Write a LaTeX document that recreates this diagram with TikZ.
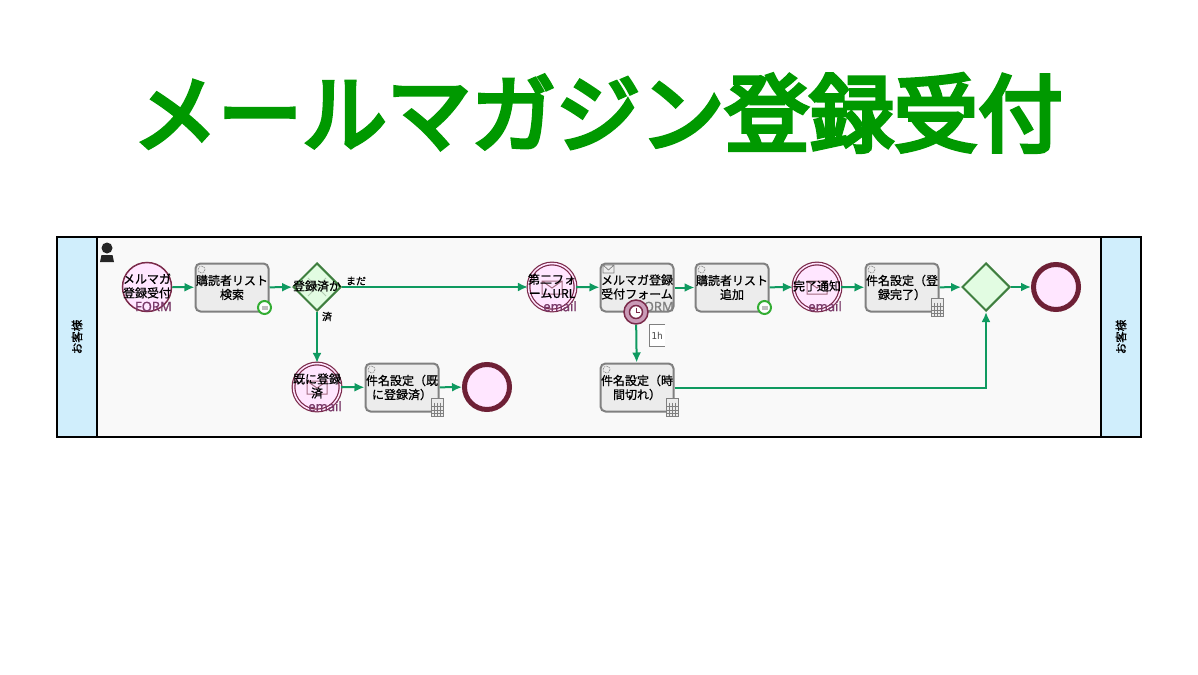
\documentclass[tikz,border=0pt]{standalone}
\usepackage{fontspec}
\setmainfont{Noto Sans CJK JP}[FakeBold = .8]
\newfontfamily\titlefont{Noto Sans CJK JP}[FakeBold = 5]
\newfontfamily\latinfont{Noto Sans}[FakeBold = 1]
\newfontfamily\monofont{DejaVu Sans Mono}
\usetikzlibrary{positioning,shapes.geometric,arrows.meta}
\definecolor{flowgreen}{HTML}{0F9A60}
\definecolor{bandblue}{HTML}{D0EEFC}
\definecolor{poolgrey}{HTML}{F9F9F9}
\definecolor{eventpink}{HTML}{FFE6FF}
\definecolor{eventred}{HTML}{7A2A4A}
\definecolor{endred}{HTML}{6E2036}
\definecolor{mailtext}{HTML}{7A3A6A}
\definecolor{taskgrey}{HTML}{ECECEC}
\definecolor{taskedge}{HTML}{808080}
\definecolor{gatefill}{HTML}{E2FCE2}
\definecolor{gateedge}{HTML}{3F7F3F}
\definecolor{titlegreen}{HTML}{009900}
\tikzset{
  band/.style = {draw = black, line width = 2pt, fill = bandblue},
  bandtext/.style = {rotate = 90, font = \fontsize{11.5}{12}\selectfont},
  task/.style = {draw = taskedge, line width = 2pt, fill = taskgrey, rounded corners = 5pt, minimum width = 73pt, minimum height = 48pt, inner sep = 0pt, align = center, font = \fontsize{12}{14}\selectfont},
  startevent/.style = {circle, draw = eventred, line width = 1.5pt, fill = eventpink, minimum size = 49pt, inner sep = 0pt},
  midevent/.style = {startevent, double = eventpink, double distance = 1.5pt, line width = 1.2pt, minimum size = 47pt},
  endevent/.style = {circle, draw = endred, line width = 5pt, fill = eventpink, minimum size = 45pt, inner sep = 0pt},
  gate/.style = {diamond, draw = gateedge, line width = 2pt, fill = gatefill, minimum width = 48pt, minimum height = 48pt, inner sep = 0pt},
  eventtext/.style = {align = center, inner sep = 0pt, font = \fontsize{12}{14}\selectfont},
  kindtext/.style = {text = mailtext, inner sep = 0pt, font = \fontsize{13}{13}\selectfont\latinfont},
  flowtext/.style = {inner sep = 0pt, font = \fontsize{10}{10}\selectfont},
  flow/.style = {draw = flowgreen, line width = 2pt, -{Latex[length = 10pt, width = 9pt]}},
}
\newcommand{\gearmark}[1]{\draw[taskedge, line width = .8pt, densely dotted] ([shift = {(7,7)}]#1.north west) circle (3.5pt);}
\newcommand{\calcmark}[1]{
  \draw[taskedge, fill = taskgrey, line width = 1pt] ([shift = {(-8,-14)}]#1.south east) rectangle ([shift = {(4,4)}]#1.south east);
  \foreach \v in {-6,-2.5,1} {\draw[taskedge, line width = .6pt] ([shift = {(-8,\v)}]#1.south east) -- ([shift = {(4,\v)}]#1.south east);}
  \foreach \v in {-5,-2,1} {\draw[taskedge, line width = .6pt] ([shift = {(\v,-10)}]#1.south east) -- ([shift = {(\v,4)}]#1.south east);}
}
\newcommand{\scriptmark}[1]{
  \draw[green!60!black!80!white, fill = white, line width = 2pt] ([shift = {(-5,-5)}]#1.south east) circle (6.5pt);
  \fill[gray!50] ([shift = {(-8,-7)}]#1.south east) rectangle ([shift = {(-2,-3)}]#1.south east);
}
\newcommand{\mailmark}[1]{
  \draw[eventred!70, line width = 1pt] ([shift = {(-10,-6)}]#1.center) rectangle ([shift = {(10,7)}]#1.center)
    ([shift = {(-10,-6)}]#1.center) -- ([shift = {(0,1)}]#1.center) -- ([shift = {(10,-6)}]#1.center);
}
\begin{document}
\begin{tikzpicture}[x = 1pt, y = -1pt]
\useasboundingbox (0,0) rectangle (1198,674);
% title
\node[text = titlegreen, inner sep = 0pt, font = \fontsize{84.5}{90}\selectfont\titlefont] (title) at (598,113) {メールマガジン登録受付};
% pool
\draw[fill = poolgrey, draw = black, line width = 2pt] (57,237) rectangle (1141,437);
\draw[band] (57,237) rectangle (97,437);
\draw[band] (1101,237) rectangle (1141,437);
\node[bandtext] (left_band) at (77,337) {お客様};
\node[bandtext] (right_band) at (1121,337) {お客様};
% person
\fill[black!85] (107,248) circle (5.5pt);
\fill[black!85] (100,262) -- (101.5,255) -- (112.5,255) -- (114,262) -- cycle;
% upper row
\node[startevent] (entry) at (147,287) {};
\node[eventtext] (entry_text) at (147,286) {メルマガ\\登録受付};
\node[kindtext, anchor = south east] (entry_kind) at (172,311.5) {FORM};
\node[task] (search) at (232,287.5) {購読者リスト\\検索};
\node[gate] (check) at (317,287) {};
\draw[gateedge!40, line width = 1pt] (308,278) -- (326,296) (326,278) -- (308,296);
\node[eventtext] (check_text) at (317,286) {登録済か};
\node[midevent] (second) at (552,287) {};
\mailmark{second}
\node[eventtext] (second_text) at (552,286) {第二フォ\\ームURL};
\node[kindtext, anchor = south east] (second_kind) at (577,311.5) {email};
\node[task] (form) at (637,287.5) {};
\node[kindtext, text = gray, anchor = south east] (form_kind) at (674,311.5) {FORM};
\node[eventtext] (form_text) at (637,287) {メルマガ登録\\受付フォーム};
\node[task] (add) at (732,287.5) {購読者リスト\\追加};
\node[midevent] (done) at (817,287) {};
\mailmark{done}
\node[eventtext] (done_text) at (817,286) {完了通知};
\node[kindtext, anchor = south east] (done_kind) at (842,311.5) {email};
\node[task] (subject_done) at (902,287.5) {件名設定（登\\録完了）};
\node[gate] (merge) at (986,287) {};
\node[endevent] (finish) at (1056,287) {};
% lower row
\node[midevent] (already) at (317,387) {};
\mailmark{already}
\node[eventtext] (already_text) at (317,386) {既に登録\\済};
\node[kindtext, anchor = south east] (already_kind) at (342,411.5) {email};
\node[task] (subject_already) at (402,387.5) {件名設定（既\\に登録済）};
\node[endevent] (finish_already) at (487,387) {};
\node[task] (subject_timeout) at (637,387.5) {件名設定（時\\間切れ）};
% task marks
\foreach \t in {search,add,subject_done,subject_already,subject_timeout} {\gearmark{\t}}
\foreach \t in {subject_done,subject_already,subject_timeout} {\calcmark{\t}}
\foreach \t in {search,add} {\scriptmark{\t}}
\draw[taskedge, line width = .7pt] (603,265) rectangle (614,273) (603,265) -- (608.5,270) -- (614,265);
% timer
\node[circle, draw = eventred, line width = 1.5pt, fill = eventred!40!eventpink, minimum size = 24pt, inner sep = 0pt] (timer) at (636,312) {};
\node[circle, draw = eventred, line width = 1.5pt, fill = white, minimum size = 13pt, inner sep = 0pt] (clock) at (636,312) {};
\draw[eventred, line width = 1pt] (636,308) -- (clock.center) -- (640,312);
\node[fill = white, inner sep = 0pt, minimum width = 16pt, minimum height = 22pt, font = \fontsize{9.5}{10}\selectfont\monofont, text = black!70] (limit) at (657,335.5) {1h};
\draw[gray, line width = 1.5pt] (665,324.5) -- (649.5,324.5) -- (649.5,346.5) -- (665,346.5);
% flows
\draw[flow] (entry) -- (search);
\draw[flow] (search) -- (check);
\draw[flow] (check) -- (second);
\draw[flow] (check) -- (already);
\draw[flow] (second) -- (form);
\draw[flow] (form) -- (add);
\draw[flow] (add) -- (done);
\draw[flow] (done) -- (subject_done);
\draw[flow] (subject_done) -- (merge);
\draw[flow] (merge) -- (finish);
\draw[flow] (already) -- (subject_already);
\draw[flow] (subject_already) -- (finish_already);
\draw[flow] (timer) -- (subject_timeout);
\draw[flow] (subject_timeout) -| (merge);
\node[flowtext, fill = poolgrey] (not_yet) at (356,281) {まだ};
\node[flowtext] (registered) at (327,316.5) {済};
\end{tikzpicture}
\end{document}
